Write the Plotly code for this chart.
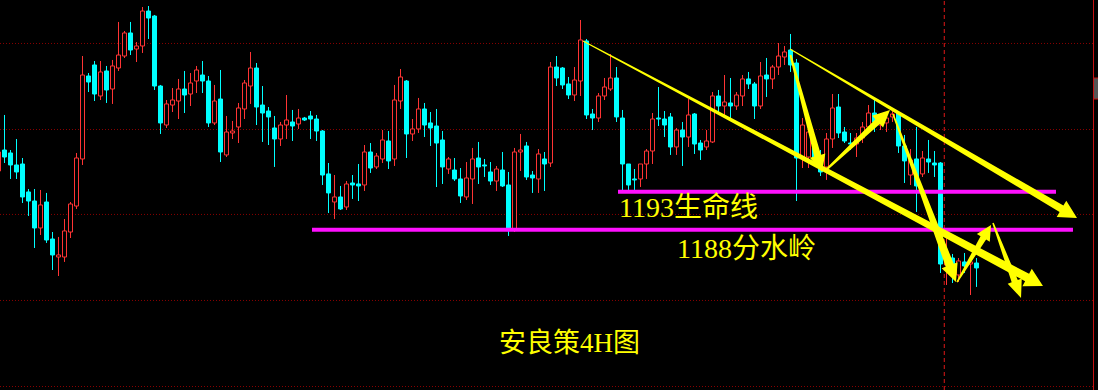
import math
import plotly.graph_objects as go

W, H = 1098, 390

# ---- OHLC data (4H candles) ----
open_ = [1195.74, 1198.50, 1198.11, 1196.53, 1196.66, 1192.98, 1191.79, 1188.24, 1191.66, 1186.79,
         1184.42, 1184.42, 1187.71, 1191.13, 1197.32, 1208.24, 1209.69, 1205.61, 1208.90, 1206.53,
         1209.29, 1210.87, 1213.90, 1211.79, 1212.19, 1216.79, 1216.13, 1206.92, 1201.79, 1204.42,
         1204.95, 1206.53, 1205.87, 1207.58, 1208.37, 1207.58, 1202.06, 1205.21, 1197.85, 1200.74,
         1201.53, 1203.90, 1206.92, 1209.29, 1204.42, 1203.63, 1201.40, 1199.95, 1201.79, 1202.19,
         1201.92, 1202.71, 1202.98, 1202.58, 1201.00, 1195.35, 1191.66, 1192.32, 1191.00, 1194.16,
         1194.03, 1193.90, 1198.24, 1196.27, 1197.32, 1199.69, 1197.32, 1204.95, 1207.58, 1200.61,
         1201.27, 1203.90, 1202.06, 1201.66, 1199.82, 1196.00, 1195.87, 1194.69, 1192.32, 1194.69,
         1197.45, 1196.53, 1195.61, 1194.42, 1195.87, 1193.90, 1188.11, 1198.24, 1199.03, 1195.21,
         1194.69, 1197.32, 1196.79, 1209.42, 1209.29, 1207.19, 1205.74, 1207.58, 1212.85, 1203.24,
         1202.71, 1205.61, 1206.53, 1207.98, 1202.71, 1196.66, 1194.69, 1194.69, 1196.66, 1198.37,
         1202.71, 1202.58, 1202.85, 1198.90, 1201.13, 1200.21, 1203.24, 1199.42, 1198.90, 1199.56,
         1205.61, 1204.29, 1204.69, 1204.29, 1205.61, 1207.85, 1207.19, 1204.29, 1208.37, 1207.85,
         1209.42, 1210.74, 1211.66, 1209.95, 1197.45, 1197.58, 1199.03, 1197.58, 1196.27, 1199.95,
         1204.16, 1200.87, 1199.42, 1199.29, 1200.08, 1201.53, 1203.37, 1201.79, 1202.06, 1202.85,
         1203.37, 1199.03, 1195.21, 1197.32, 1195.35, 1197.32, 1196.79, 1196.79, 1183.37, 1184.29,
         1182.06, 1183.77, 1183.50, 1183.63]
high = [1198.50, 1203.11, 1198.50, 1199.95, 1197.45, 1193.37, 1193.37, 1193.24, 1192.85, 1187.71,
        1187.06, 1189.42, 1191.66, 1198.11, 1210.87, 1208.63, 1210.21, 1210.21, 1209.56, 1210.35,
        1215.35, 1214.16, 1215.35, 1212.71, 1217.32, 1217.45, 1216.27, 1207.06, 1205.08, 1206.66,
        1207.85, 1208.90, 1208.63, 1209.56, 1210.21, 1208.24, 1207.06, 1209.03, 1202.98, 1202.32,
        1204.69, 1207.71, 1211.40, 1209.95, 1206.92, 1204.16, 1202.98, 1202.19, 1205.74, 1203.77,
        1203.90, 1202.85, 1203.63, 1203.11, 1201.13, 1196.79, 1195.21, 1193.77, 1194.42, 1195.21,
        1196.66, 1199.16, 1199.42, 1198.11, 1201.13, 1201.00, 1207.06, 1209.16, 1207.71, 1202.58,
        1205.35, 1204.69, 1203.50, 1203.90, 1201.00, 1197.58, 1197.45, 1196.13, 1196.92, 1198.77,
        1199.56, 1197.32, 1196.92, 1196.40, 1198.24, 1195.61, 1198.77, 1200.61, 1199.56, 1195.74,
        1198.63, 1198.24, 1210.08, 1210.87, 1209.42, 1208.11, 1209.42, 1215.61, 1213.11, 1203.90,
        1206.00, 1207.98, 1211.13, 1209.42, 1203.77, 1196.66, 1196.00, 1196.66, 1198.63, 1203.37,
        1206.79, 1203.63, 1203.37, 1201.40, 1202.19, 1205.21, 1203.37, 1199.82, 1201.13, 1206.13,
        1206.40, 1208.37, 1207.98, 1206.13, 1208.37, 1208.77, 1207.45, 1210.08, 1210.61, 1209.69,
        1212.58, 1212.19, 1213.77, 1210.48, 1202.71, 1201.53, 1200.21, 1198.50, 1200.74, 1205.87,
        1205.87, 1201.53, 1200.74, 1200.74, 1202.19, 1204.42, 1205.08, 1203.37, 1203.37, 1203.77,
        1203.50, 1200.48, 1198.63, 1201.53, 1198.37, 1199.82, 1198.37, 1196.92, 1187.58, 1184.82,
        1184.29, 1184.95, 1184.03, 1184.29]
low = [1195.61, 1196.79, 1194.69, 1194.69, 1191.53, 1189.82, 1185.61, 1187.32, 1186.27, 1182.71,
       1181.92, 1183.77, 1186.92, 1190.74, 1196.53, 1206.13, 1204.95, 1205.08, 1204.69, 1204.56,
       1208.90, 1210.61, 1211.00, 1210.08, 1211.27, 1213.11, 1206.40, 1200.61, 1201.40, 1203.50,
       1202.58, 1203.37, 1204.29, 1206.00, 1206.00, 1201.53, 1201.79, 1196.92, 1197.58, 1199.95,
       1199.42, 1202.58, 1204.56, 1201.79, 1199.56, 1199.16, 1196.27, 1199.03, 1199.95, 1199.69,
       1201.27, 1202.32, 1199.95, 1199.69, 1193.90, 1190.21, 1189.42, 1190.61, 1190.61, 1192.06,
       1191.79, 1193.11, 1195.48, 1196.00, 1196.79, 1196.00, 1196.40, 1203.90, 1197.45, 1199.69,
       1200.74, 1200.21, 1199.03, 1193.63, 1194.03, 1195.35, 1194.42, 1191.53, 1191.92, 1191.40,
       1194.03, 1194.95, 1193.90, 1193.11, 1193.63, 1187.19, 1187.71, 1195.74, 1194.56, 1192.85,
       1192.85, 1193.11, 1196.27, 1206.92, 1206.53, 1205.21, 1204.95, 1205.61, 1202.58, 1201.13,
       1202.19, 1205.08, 1206.27, 1202.19, 1193.24, 1193.24, 1193.24, 1193.63, 1194.69, 1196.66,
       1201.66, 1200.21, 1197.85, 1197.85, 1196.40, 1198.90, 1197.98, 1197.19, 1198.50, 1199.42,
       1203.24, 1203.11, 1202.71, 1203.77, 1204.29, 1206.53, 1202.58, 1203.90, 1205.48, 1206.53,
       1208.37, 1209.69, 1208.77, 1191.79, 1196.13, 1196.13, 1196.79, 1195.08, 1194.56, 1198.77,
       1200.08, 1199.42, 1198.50, 1197.58, 1199.42, 1200.74, 1200.87, 1201.13, 1200.87, 1202.19,
       1198.11, 1194.16, 1193.90, 1190.35, 1194.95, 1195.48, 1194.95, 1182.32, 1180.74, 1181.00,
       1181.13, 1182.32, 1179.42, 1180.48]
close = [1198.24, 1197.58, 1196.53, 1195.61, 1192.32, 1191.79, 1188.24, 1191.27, 1186.66, 1184.69,
         1184.69, 1187.85, 1191.40, 1197.45, 1208.37, 1207.45, 1205.87, 1208.77, 1206.40, 1209.56,
         1211.00, 1213.90, 1211.66, 1212.19, 1216.79, 1215.87, 1206.92, 1202.06, 1204.56, 1205.08,
         1206.53, 1205.74, 1207.32, 1209.03, 1207.58, 1202.06, 1204.95, 1198.24, 1200.87, 1201.00,
         1204.03, 1207.32, 1209.29, 1204.16, 1203.37, 1202.85, 1199.95, 1201.79, 1202.45, 1201.66,
         1202.71, 1202.45, 1202.58, 1201.00, 1195.21, 1192.85, 1192.32, 1190.74, 1194.03, 1193.90,
         1193.77, 1198.24, 1196.13, 1197.71, 1199.82, 1197.06, 1205.08, 1208.11, 1200.61, 1201.27,
         1203.90, 1201.79, 1201.40, 1199.42, 1196.27, 1197.32, 1194.69, 1192.45, 1194.82, 1197.32,
         1196.27, 1196.40, 1194.42, 1196.00, 1193.77, 1187.98, 1198.24, 1198.50, 1194.95, 1194.82,
         1197.98, 1196.66, 1209.42, 1207.98, 1207.06, 1205.74, 1207.71, 1212.98, 1203.11, 1202.71,
         1205.61, 1206.79, 1207.98, 1202.85, 1196.66, 1193.90, 1194.56, 1196.66, 1198.37, 1202.58,
         1202.58, 1201.79, 1198.90, 1201.13, 1200.21, 1203.11, 1199.29, 1198.50, 1199.69, 1205.61,
         1204.29, 1204.82, 1204.29, 1205.74, 1207.85, 1207.19, 1204.29, 1208.24, 1207.85, 1209.42,
         1210.87, 1211.40, 1209.69, 1197.45, 1201.79, 1200.87, 1197.45, 1195.61, 1199.95, 1204.03,
         1200.74, 1199.69, 1199.29, 1200.08, 1201.53, 1203.37, 1202.19, 1202.45, 1202.71, 1203.24,
         1199.03, 1197.06, 1197.19, 1193.77, 1197.45, 1196.92, 1196.53, 1183.50, 1184.69, 1182.32,
         1183.90, 1183.24, 1183.77, 1182.98]
bar_index = list(range(len(open_)))

# ---- levels and annotations ----
GRID_LEVELS = [1212.52, 1201.20, 1190.02, 1178.70, 1167.38]
LIFE_LINE = 1193            # 1193 生命线
WATERSHED = 1188            # 1188 分水岭
LIFE_LINE_SPAN = [103.25, 176.25]
WATERSHED_SPAN = [52.25, 179.08]
NOW_INDEX = 157.63          # vertical dashed marker

# trend arrows: (x0, y0, x1, y1) in bar index / price
ARROWS = [
    (97.42, 1212.85, 174.08, 1180.61),
    (131.92, 1211.79, 179.75, 1189.56),
    (132.00, 1211.00, 137.25, 1195.61),
    (137.92, 1195.87, 148.58, 1203.77),
    (149.08, 1203.24, 159.58, 1181.13),
    (159.75, 1181.13, 165.42, 1188.63),
    (165.75, 1188.90, 170.42, 1179.03),
]
# start width, end width, head length, head width (px)
ARROW_STYLE = [
    (1.0, 8.5, 18, 20),
    (1.0, 7.5, 18, 19),
    (2.0, 7.0, 17, 16),
    (2.0, 6.5, 17, 16),
    (1.5, 8.5, 18, 17),
    (1.5, 6.5, 15, 15),
    (1.5, 6.5, 18, 15),
]

X_RANGE = [0.25, 183.25]
Y_RANGE = [1166.92, 1218.24]

RED = "#ff3434"
CYAN = "#00ffff"
YELLOW = "#ffff00"
MAGENTA = "#ff10ff"


def to_px(x, y):
    return ((x - X_RANGE[0]) / (X_RANGE[1] - X_RANGE[0]) * W,
            (Y_RANGE[1] - y) / (Y_RANGE[1] - Y_RANGE[0]) * H)


def to_data(px, py):
    return (X_RANGE[0] + px / W * (X_RANGE[1] - X_RANGE[0]),
            Y_RANGE[1] - py / H * (Y_RANGE[1] - Y_RANGE[0]))


def arrow_path(x0, y0, x1, y1, w0, w1, hl, hw):
    p0x, p0y = to_px(x0, y0)
    p1x, p1y = to_px(x1, y1)
    dx, dy = p1x - p0x, p1y - p0y
    L = math.hypot(dx, dy)
    ux, uy = dx / L, dy / L
    nx, ny = -uy, ux
    bx, by = p1x - ux * hl, p1y - uy * hl
    pts = [
        (p0x + nx * w0 / 2, p0y + ny * w0 / 2),
        (bx + nx * w1 / 2, by + ny * w1 / 2),
        (bx + nx * hw / 2, by + ny * hw / 2),
        (p1x, p1y),
        (bx - nx * hw / 2, by - ny * hw / 2),
        (bx - nx * w1 / 2, by - ny * w1 / 2),
        (p0x - nx * w0 / 2, p0y - ny * w0 / 2),
    ]
    d = []
    for k, (px, py) in enumerate(pts):
        xd, yd = to_data(px, py)
        d.append(("M" if k == 0 else "L") + f"{xd:.4f},{yd:.4f}")
    return " ".join(d) + " Z"


fig = go.Figure()

up_x, up_base, up_h = [], [], []
dn_x, dn_base, dn_h = [], [], []
up_wx, up_wy, dn_wx, dn_wy = [], [], [], []
for i, o, h, l, c in zip(bar_index, open_, high, low, close):
    if c >= o:
        up_x.append(i); up_base.append(o); up_h.append(c - o)
        up_wx += [i, i, None, i, i, None]
        up_wy += [h, c, None, o, l, None]
    else:
        dn_x.append(i); dn_base.append(c); dn_h.append(o - c)
        dn_wx += [i, i, None]
        dn_wy += [h, l, None]

BW = 4 / 6
fig.add_trace(go.Bar(x=up_x, y=up_h, base=up_base, width=BW,
                     marker=dict(color="#000000", line=dict(color=RED, width=1)),
                     hoverinfo="skip", showlegend=False))
fig.add_trace(go.Bar(x=dn_x, y=dn_h, base=dn_base, width=BW,
                     marker=dict(color=CYAN, line=dict(color=CYAN, width=1)),
                     hoverinfo="skip", showlegend=False))
fig.add_trace(go.Scatter(x=up_wx, y=up_wy, mode="lines", line=dict(color=RED, width=1),
                         hoverinfo="skip", showlegend=False))
fig.add_trace(go.Scatter(x=dn_wx, y=dn_wy, mode="lines", line=dict(color=CYAN, width=1),
                         hoverinfo="skip", showlegend=False))

shapes = []
border_x = 1093.5 / W
for g in GRID_LEVELS:
    shapes.append(dict(type="line", xref="paper", yref="y", x0=0, x1=border_x, y0=g, y1=g,
                       line=dict(color="#880000", width=1, dash="1px,2px"), layer="below"))
shapes.append(dict(type="line", xref="x", yref="paper", x0=NOW_INDEX, x1=NOW_INDEX, y0=0, y1=1,
                   line=dict(color="#e01818", width=1, dash="4px,3px"), layer="below"))
shapes.append(dict(type="line", xref="x", yref="y", x0=LIFE_LINE_SPAN[0], x1=LIFE_LINE_SPAN[1],
                   y0=LIFE_LINE, y1=LIFE_LINE, line=dict(color=MAGENTA, width=4)))
shapes.append(dict(type="line", xref="x", yref="y", x0=WATERSHED_SPAN[0], x1=WATERSHED_SPAN[1],
                   y0=WATERSHED, y1=WATERSHED, line=dict(color=MAGENTA, width=4)))
for (x0, y0, x1, y1), (w0, w1, hl, hw) in zip(ARROWS, ARROW_STYLE):
    shapes.append(dict(type="path", xref="x", yref="y",
                       path=arrow_path(x0, y0, x1, y1, w0, w1, hl, hw),
                       fillcolor=YELLOW, line=dict(width=0)))
shapes.append(dict(type="line", xref="paper", yref="paper", x0=border_x, x1=border_x, y0=0, y1=1,
                   line=dict(color="#c41010", width=1)))
shapes.append(dict(type="rect", xref="paper", yref="paper", x0=border_x, x1=1.02,
                   y0=1 - 99 / H, y1=1 - 78 / H, fillcolor="#555555",
                   line=dict(color="#c41010", width=1)))

FONT = "Liberation Serif, Noto Sans CJK SC, serif"
annotations = [
    dict(x=103.1, y=1191.0, xref="x", yref="y", text="1193生命线", showarrow=False,
         xanchor="left", yanchor="middle", font=dict(family=FONT, size=28, color=YELLOW)),
    dict(x=112.8, y=1185.6, xref="x", yref="y", text="1188分水岭", showarrow=False,
         xanchor="left", yanchor="middle", font=dict(family=FONT, size=28, color=YELLOW)),
    dict(x=95.1, y=1173.1, xref="x", yref="y", text="安良策4H图", showarrow=False,
         xanchor="center", yanchor="middle", font=dict(family=FONT, size=27, color=YELLOW)),
]

fig.update_layout(
    width=W, height=H, margin=dict(l=0, r=0, t=0, b=0),
    paper_bgcolor="#000000", plot_bgcolor="#000000",
    barmode="overlay", showlegend=False,
    xaxis=dict(range=X_RANGE, visible=False, showgrid=False, zeroline=False, fixedrange=True),
    yaxis=dict(range=Y_RANGE, visible=False, showgrid=False, zeroline=False, fixedrange=True),
    shapes=shapes, annotations=annotations,
)

fig.write_html("out.html", config={"displayModeBar": False})
